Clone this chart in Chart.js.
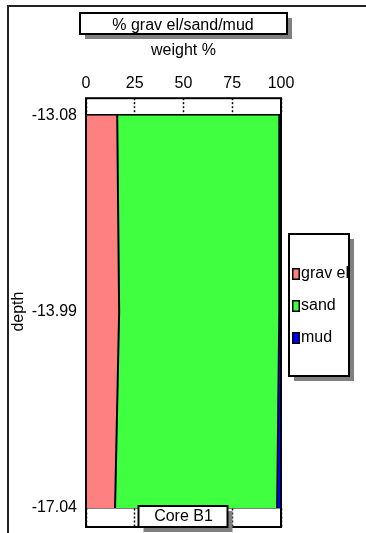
<!DOCTYPE html>
<html>
<head>
<meta charset="utf-8">
<script src="https://cdn.jsdelivr.net/npm/chart.js@4"></script>
<style>
body { margin: 0; background: #fff; }
</style>
</head>
<body>
<canvas id="coreChart" width="366" height="533"></canvas>
<script>
// sample depths down the core, top to bottom
var depthLabels = ["-13.08", "-13.99", "-17.04"];
// weight % of each fraction at those depths
var gravelData = [16.0, 17.0, 14.9];
var sandData = [83.0, 82.0, 83.0];
var mudData = [1.0, 1.0, 2.1];
var weightTicks = [0, 25, 50, 75, 100];
var chartTitle = "% grav el/sand/mud";
var coreName = "Core B1";

Chart.defaults.font.family = "'Liberation Sans', Arial, sans-serif";
Chart.defaults.font.size = 16;
Chart.defaults.color = "#000";

//legend marker: coloured box with a black edge, sat at the right of a wider see-through canvas
function Swatch(colour)
{
	var c = document.createElement("canvas");
	c.width = 17;
	c.height = 12;
	var g = c.getContext("2d");
	g.fillStyle = colour;
	g.fillRect(8, 0, 8, 12);
	g.strokeStyle = "#000";
	g.lineWidth = 1.5;
	g.strokeRect(8.75, 0.75, 6.5, 10.5);
	return c;
}

//white box with a grey drop shadow
function ShadowBox(ctx, x, y, w, h)
{
	ctx.fillStyle = "#808080";
	ctx.fillRect(x + 5, y + 5, w, h);
	ctx.fillStyle = "#fff";
	ctx.fillRect(x, y, w, h);
	ctx.strokeStyle = "#000";
	ctx.lineWidth = 2;
	ctx.strokeRect(x, y, w, h);
}

function SetTicks(scale)
{
	scale.ticks = weightTicks.map(function(v) { return {value: v}; });
}

//keeps the legend column a fixed width and nudges it left a little
var legendPlace = {
	id: "legendPlace",
	beforeInit: function(chart)
	{
		var fit = chart.legend.fit;
		chart.legend.fit = function()
		{
			fit.call(this);
			this.width = 85;
		};
	},
	afterLayout: function(chart)
	{
		chart.legend.left -= 5;
		chart.legend.right -= 5;
	}
};

var boxes = {
	id: "boxes",
	beforeDraw: function(chart)
	{
		var ctx = chart.ctx;
		ctx.save();
		ctx.fillStyle = "#fff";
		ctx.fillRect(0, 0, chart.width, chart.height);
		//outer frame runs off the right and bottom
		ctx.strokeStyle = "#222";
		ctx.lineWidth = 2;
		ctx.strokeRect(8, 6, chart.width + 20, chart.height + 20);
		var t = chart.titleBlock;
		var cx = (t.left + t.right) / 2;
		ShadowBox(ctx, cx - 103, 13, 207, 21);
		var hb = chart.legend.legendHitBoxes;
		ShadowBox(ctx, hb[0].left - 3, hb[0].top - 32, 60, 142);
		ctx.restore();
	},
	afterDraw: function(chart)
	{
		var ctx = chart.ctx;
		var area = chart.chartArea;
		ctx.save();
		ctx.strokeStyle = "#000";
		ctx.lineWidth = 2;
		ctx.strokeRect(area.left, area.top - 17, area.right - area.left, area.bottom - area.top + 36);
		var cx = (area.left + area.right) / 2;
		ShadowBox(ctx, cx - 45, area.bottom - 2, 89, 21);
		ctx.fillStyle = "#000";
		ctx.font = "16px 'Liberation Sans', Arial, sans-serif";
		ctx.textAlign = "center";
		ctx.textBaseline = "middle";
		ctx.fillText(coreName, cx, area.bottom + 9);
		ctx.restore();
	}
};

new Chart("coreChart",
{
	type: "line",
	data:
	{
		labels: depthLabels,
		datasets: [
		{
			label: "grav el",
			data: gravelData,
			backgroundColor: "#ff8080",
			borderColor: "#000",
			borderWidth: 2,
			fill: "origin",
			pointRadius: 0,
			pointStyle: Swatch("#ff8080")
		},
		{
			label: "sand",
			data: sandData,
			backgroundColor: "#40ff40",
			borderColor: "#000",
			borderWidth: 1.5,
			fill: "-1",
			pointRadius: 0,
			pointStyle: Swatch("#40ff40")
		},
		{
			label: "mud",
			data: mudData,
			backgroundColor: "#0000ff",
			borderColor: "#000",
			borderWidth: 1,
			fill: "-1",
			pointRadius: 0,
			pointStyle: Swatch("#0000ff")
		}]
	},
	options:
	{
		indexAxis: "y",
		responsive: false,
		animation: false,
		events: [],
		layout: { padding: { left: 0, right: 0, top: 0, bottom: 6 } },
		scales:
		{
			x:
			{
				type: "linear",
				position: "top",
				stacked: true,
				min: 0,
				max: 100,
				afterFit: function(s) { s.height = 76; },
				afterBuildTicks: SetTicks,
				ticks: { padding: 5 },
				grid: { drawOnChartArea: false, tickLength: 17, tickColor: "#000", tickWidth: 1.5, tickBorderDash: [2, 2] },
				border: { color: "#000", width: 2 },
				title: { display: true, text: "weight %", padding: { top: 2, bottom: 0 } }
			},
			x2:
			{
				type: "linear",
				position: "bottom",
				min: 0,
				max: 100,
				afterFit: function(s) { s.height = 19; },
				afterBuildTicks: SetTicks,
				ticks: { display: false },
				grid: { drawOnChartArea: false, tickLength: 19, tickColor: "#000", tickWidth: 1.5, tickBorderDash: [2, 2] },
				border: { color: "#000", width: 1.5, dash: [2, 1] }
			},
			y:
			{
				type: "category",
				afterFit: function(s) { s.width = 86; },
				grid: { display: false, drawTicks: false, tickLength: 0 },
				border: { display: false },
				ticks: { padding: 9 },
				title: { display: true, text: "depth", padding: { top: 9, bottom: 0 } }
			}
		},
		plugins:
		{
			title:
			{
				display: true,
				text: chartTitle,
				font: { size: 16, weight: "normal" },
				padding: { top: 15.5, bottom: 4.5 }
			},
			legend:
			{
				position: "right",
				align: "center",
				title: { display: true, text: "", padding: { top: 65.8, bottom: 0 } },
				labels: { usePointStyle: true, pointStyleWidth: 1, padding: 16 }
			},
			tooltip: { enabled: false }
		}
	},
	plugins: [legendPlace, boxes]
});
</script>
</body>
</html>
